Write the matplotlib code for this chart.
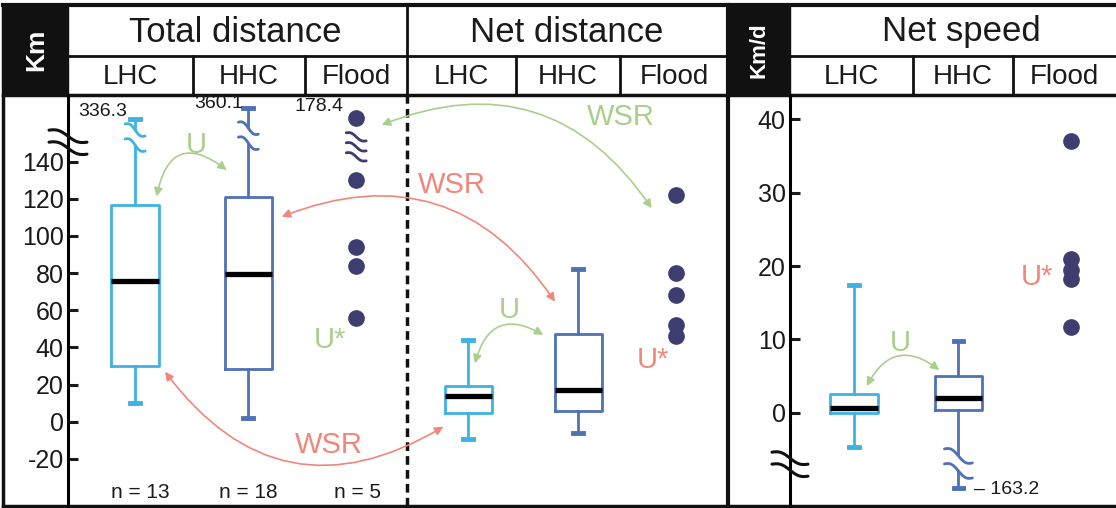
import numpy as np
import matplotlib
matplotlib.use("Agg")
import matplotlib.pyplot as plt
from matplotlib.patches import FancyArrowPatch, Rectangle
from matplotlib.transforms import IdentityTransform

plt.rcParams['font.family'] = ['Liberation Sans', 'DejaVu Sans']
plt.rcParams['axes.unicode_minus'] = False

W, H = 1116, 508

GROUPS = ["LHC", "HHC", "Flood"]
TITLES = ["Total distance", "Net distance", "Net speed"]

# Km panel boxes: total LHC, total HHC, net LHC, net HHC
KM_MED = [75.5, 79.5, 14.0, 17.0]
KM_Q1 = [30.0, 28.5, 4.5, 5.5]
KM_Q3 = [116.5, 121.0, 19.0, 47.0]
KM_LO = [10.0, 2.0, -9.5, -6.0]
KM_HI = [163.0, 169.0, 44.0, 82.0]      # first two drawn at the axis break
KM_HI_TRUE = ["336.3", "360.1"]
FLOOD_TOTAL = [163.5, 130.0, 94.0, 84.0, 56.0]   # top one at break
FLOOD_TOTAL_TOP = "178.4"
FLOOD_NET = [122.0, 80.0, 68.0, 52.0, 46.0]
N_LABELS = ["n = 13", "n = 18", "n = 5"]

# Km/d panel boxes: LHC, HHC
SP_MED = [0.7, 2.0]
SP_Q1 = [0.0, 0.4]
SP_Q3 = [2.6, 5.0]
SP_LO = [-4.7, -10.3]                    # HHC drawn at the axis break
SP_HI = [17.4, 9.8]
SP_LO_TRUE = "\u2013 163.2"
FLOOD_SPEED = [37.1, 21.0, 19.5, 18.2, 11.7]

C_LHC = "#3fb2e4"
C_HHC = "#4f71b6"
C_DOT = "#3d3d70"
C_GREEN = "#a9cf8c"
C_RED = "#f0877a"

fig = plt.figure(figsize=(W / 100, H / 100), dpi=100)

# background / frame axes in pixel coordinates
bg = fig.add_axes([0, 0, 1, 1])
bg.set_xlim(0, W)
bg.set_ylim(H, 0)
bg.axis("off")

top, row, hdr, bot = 5, 56, 95, 506
bg.add_patch(Rectangle((3, top), 65, hdr - top, color="#111111", zorder=1))
bg.add_patch(Rectangle((728, top), 62, hdr - top, color="#111111", zorder=1))
bg.plot([3, W], [top, top], color="#111111", lw=3)
bg.plot([3, W], [bot, bot], color="#111111", lw=2.5)
bg.plot([3, 3], [top, bot], color="#111111", lw=2.5)
bg.plot([68, 728], [row, row], color="#111111", lw=2)
bg.plot([790, W], [row, row], color="#111111", lw=2)
bg.plot([3, W], [hdr, hdr], color="#111111", lw=2.5)
for xv in [193, 305, 516, 620, 913, 1013]:
    bg.plot([xv, xv], [row, hdr], color="#111111", lw=2)
bg.plot([407, 407], [top, hdr], color="#111111", lw=2)
bg.plot([728, 728], [top, bot], color="#111111", lw=3)

bg.text(36, 50, "Km", rotation=90, color="white", fontsize=19,
        fontweight="bold", ha="center", va="center")
bg.text(759, 50, "Km/d", rotation=90, color="white", fontsize=16,
        fontweight="bold", ha="center", va="center")
for title, xc in zip(TITLES, [235, 567, 961]):
    bg.text(xc, 32, title, fontsize=25, ha="center", va="center", color="#1a1a1a")
for xc, g in zip([130, 249, 356, 461, 568, 674, 851, 963, 1064], GROUPS * 3):
    bg.text(xc, 77, g, fontsize=20, ha="center", va="center", color="#1a1a1a")

# ---------- Km panel ----------
axA = fig.add_axes([68 / W, (H - bot) / H, 660 / W, (bot - hdr) / H])
axA.set_facecolor("none")
axA.set_xlim(0, 6.0)
axA.set_ylim(-45.4, 175.9)
posA = [0.61, 1.64, 3.64, 4.64]
flood_posA = [2.62, 5.53]
colsA = [C_LHC, C_HHC, C_LHC, C_HHC]

stats = [dict(med=m, q1=a, q3=b, whislo=lo, whishi=hi)
         for m, a, b, lo, hi in zip(KM_MED, KM_Q1, KM_Q3, KM_LO, KM_HI)]
bpA = axA.bxp(stats, positions=posA, widths=0.43, showfliers=False,
              capwidths=0.09, manage_ticks=False,
              medianprops=dict(color="black", lw=3.8, solid_capstyle="butt"))
for i, c in enumerate(colsA):
    bpA["boxes"][i].set(color=c, lw=2.0)
    for art in bpA["whiskers"][2 * i:2 * i + 2] + bpA["caps"][2 * i:2 * i + 2]:
        art.set(color=c, lw=2.0)
    for art in bpA["caps"][2 * i:2 * i + 2]:
        art.set(lw=3.5)
    bpA["medians"][i].set_zorder(4)

axA.plot([flood_posA[0]] * len(FLOOD_TOTAL), FLOOD_TOTAL, "o", color=C_DOT, ms=11)
axA.plot([flood_posA[1]] * len(FLOOD_NET), FLOOD_NET, "o", color=C_DOT, ms=11)

# dashed divider between total and net distance
axA.axvline(3.08, color="#111111", lw=2.5, ls=(0, (2.5, 1.5)))

axA.set_xticks([])
axA.set_yticks(np.arange(-20, 141, 20))
axA.tick_params(axis="y", direction="in", length=7, width=2.2, pad=3,
                labelsize=18, colors="#1a1a1a")
for s in ["top", "right", "bottom"]:
    axA.spines[s].set_visible(False)
axA.spines["left"].set_linewidth(2.2)


def wave_break(ax, xy_disp, w, drop, n, gap, color, lw, fill=True):
    cx, cy = xy_disp
    t = np.linspace(-1, 1, 60)
    xs = cx + t * w / 2
    base = cy - t * drop / 2 - 0.22 * drop * np.sin(np.pi * t)
    offs = (np.arange(n) - (n - 1) / 2) * gap
    if fill:
        ax.fill_between(xs, base + offs[0] + lw, base + offs[-1] - lw,
                        color="white", transform=IdentityTransform(),
                        zorder=5, clip_on=False)
    for o in offs:
        ax.plot(xs, base + o, color=color, lw=lw, transform=IdentityTransform(),
                zorder=6, clip_on=False, solid_capstyle="round")


def disp(ax, x, y):
    return ax.transData.transform((x, y))


# breaks in Km panel
wave_break(axA, disp(axA, posA[0], 153), 20, 12, 2, 15, C_LHC, 2.0)
wave_break(axA, disp(axA, posA[1], 154), 20, 12, 2, 15, C_HHC, 2.0)
wave_break(axA, disp(axA, flood_posA[0], 148), 20, 8, 3, 10, C_DOT, 2.0)
yx = axA.transAxes.transform((0, 0))[0]
wave_break(axA, (yx, disp(axA, 0, 150.5)[1]), 38, 12, 2, 12, "#111111", 2.2, fill=False)

axA.text(posA[0] - 0.07, KM_HI[0] + 4, KM_HI_TRUE[0], ha="right", va="center",
         fontsize=14, color="#1a1a1a")
axA.text(posA[1] - 0.05, KM_HI[1] + 2.5, KM_HI_TRUE[1], ha="right", va="center",
         fontsize=14, color="#1a1a1a")
axA.text(flood_posA[0] - 0.12, FLOOD_TOTAL[0] + 6, FLOOD_TOTAL_TOP, ha="right",
         va="center", fontsize=14, color="#1a1a1a")
for xp, lab in zip([0.66, 1.64, 2.63], N_LABELS):
    axA.text(xp, -38.4, lab, ha="center", va="center", fontsize=15, color="#1a1a1a")


def arc(ax, a, b, rad, color):
    ax.add_patch(FancyArrowPatch(a, b, arrowstyle="<|-|>,head_length=5,head_width=2.5",
                                 connectionstyle=f"arc3,rad={rad}", color=color,
                                 lw=1.2, shrinkA=0, shrinkB=0, zorder=3))


arc(axA, (0.806, 121.2), (1.443, 135.5), -0.8, C_GREEN)
arc(axA, (0.882, 26.9), (3.412, -2.7), 0.45, C_RED)
arc(axA, (1.943, 110.4), (4.427, 64.6), -0.4, C_RED)
arc(axA, (2.852, 159.8), (5.306, 114.9), -0.4, C_GREEN)
arc(axA, (3.70, 31.4), (4.321, 46.7), -0.65, C_GREEN)

axA.text(1.17, 149, "U", color=C_GREEN, fontsize=21, ha="center", va="center")
axA.text(2.38, 44, "U*", color=C_GREEN, fontsize=21, ha="center", va="center")
axA.text(2.37, -12.5, "WSR", color=C_RED, fontsize=21, ha="center", va="center")
axA.text(3.49, 127.5, "WSR", color=C_RED, fontsize=21, ha="center", va="center")
axA.text(5.03, 164.2, "WSR", color=C_GREEN, fontsize=21, ha="center", va="center")
axA.text(4.01, 60, "U", color=C_GREEN, fontsize=21, ha="center", va="center")
axA.text(5.32, 33.2, "U*", color=C_RED, fontsize=21, ha="center", va="center")

# ---------- Km/d panel ----------
axB = fig.add_axes([790 / W, (H - bot) / H, (W - 790) / W, (bot - hdr) / H])
axB.set_facecolor("none")
axB.set_xlim(0, 3.0)
axB.set_ylim(-12.7, 43.3)
posB = [0.59, 1.55]
flood_posB = 2.59
colsB = [C_LHC, C_HHC]

statsB = [dict(med=m, q1=a, q3=b, whislo=lo, whishi=hi)
          for m, a, b, lo, hi in zip(SP_MED, SP_Q1, SP_Q3, SP_LO, SP_HI)]
bpB = axB.bxp(statsB, positions=posB, widths=0.44, showfliers=False,
              capwidths=0.09, manage_ticks=False,
              medianprops=dict(color="black", lw=3.8, solid_capstyle="butt"))
for i, c in enumerate(colsB):
    bpB["boxes"][i].set(color=c, lw=2.0)
    for art in bpB["whiskers"][2 * i:2 * i + 2] + bpB["caps"][2 * i:2 * i + 2]:
        art.set(color=c, lw=2.0)
    for art in bpB["caps"][2 * i:2 * i + 2]:
        art.set(lw=3.5)
    bpB["medians"][i].set_zorder(4)

axB.plot([flood_posB] * len(FLOOD_SPEED), FLOOD_SPEED, "o", color=C_DOT, ms=11)

axB.set_xticks([])
axB.set_yticks(np.arange(0, 41, 10))
axB.tick_params(axis="y", direction="in", length=7, width=2.2, pad=3,
                labelsize=18, colors="#1a1a1a")
for s in ["top", "right", "bottom"]:
    axB.spines[s].set_visible(False)
axB.spines["left"].set_linewidth(2.2)

wave_break(axB, disp(axB, posB[1], -6.9), 28, 14, 2, 15, C_HHC, 2.0)
yxB = axB.transAxes.transform((0, 0))[0]
wave_break(axB, (yxB, disp(axB, 0, -7.0)[1]), 36, 12, 2, 12, "#111111", 2.2, fill=False)

axB.text(posB[1] + 0.14, SP_LO[0] - 5.8, SP_LO_TRUE, ha="left", va="center",
         fontsize=14, color="#1a1a1a")

arc(axB, (0.706, 3.64), (1.374, 5.82), -0.59, C_GREEN)
axB.text(1.012, 9.5, "U", color=C_GREEN, fontsize=21, ha="center", va="center")
axB.text(2.27, 18.5, "U*", color=C_RED, fontsize=21, ha="center", va="center")

fig.savefig("out.png", dpi=100)
